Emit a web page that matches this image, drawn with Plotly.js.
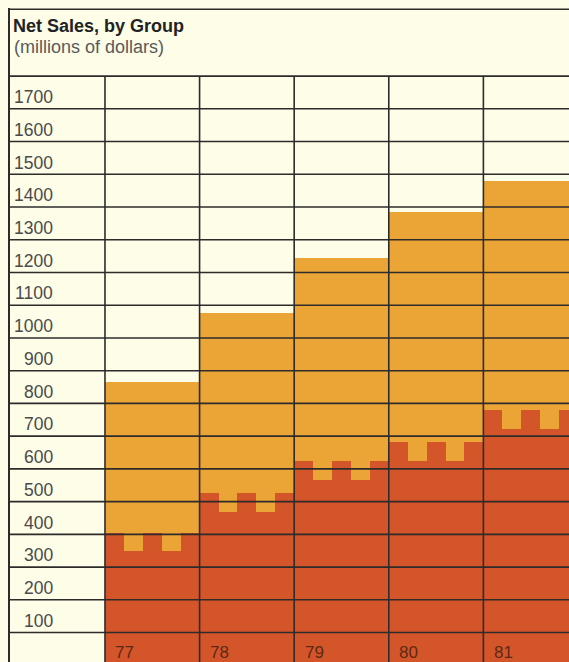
<!DOCTYPE html>
<html>
<head>
<meta charset="utf-8">
<script src="https://cdn.plot.ly/plotly-3.0.1.min.js"></script>
<style>
  html, body { margin: 0; padding: 0; background: #fdfde8; }
  #chart { width: 569px; height: 662px; }
</style>
</head>
<body>
<div id="chart"></div>
<script>
// ---- data ----
var years = ['77', '78', '79', '80', '81'];
var totalSales = [866, 1075, 1245, 1385, 1480];   // top of the whole bar
var redGroup = [405, 525, 623, 682, 780];          // top of the red (lower) group
var yTickValues = [100, 200, 300, 400, 500, 600, 700, 800, 900, 1000, 1100, 1200, 1300, 1400, 1500, 1600, 1700];
var yTickLabels = ['100', '200', '300', '400', '500', '600', '700', '800', '900', '1000', '1100', '1200', '1300', '1400', '1500', '1600', '1700'];
var gridTop = 1800;

// ---- style constants ----
var ORANGE = '#eaa536';
var RED = '#d5552a';
var BG = '#fdfde8';
var LINE = '#2e2b2b';
var notchDepth = 57;
var merlonOffsets = [-0.4, 0, 0.4];
var FONT = 'Liberation Sans, Arial, sans-serif';

var xs = years.map(function (_, i) { return i; });
var notchLevel = redGroup.map(function (v) { return v - notchDepth; });

var mx = [], mbase = [], my = [];
xs.forEach(function (x, i) {
  merlonOffsets.forEach(function (o) {
    mx.push(x + o); mbase.push(notchLevel[i]); my.push(notchDepth);
  });
});

var traces = [
  { type: 'bar', x: xs, y: totalSales, width: 1, marker: { color: ORANGE, line: { width: 0 } }, hoverinfo: 'skip' },
  { type: 'bar', x: xs, y: notchLevel, width: 1, marker: { color: RED, line: { width: 0 } }, hoverinfo: 'skip' },
  { type: 'bar', x: mx, y: my, base: mbase, width: 0.2, marker: { color: RED, line: { width: 0 } }, hoverinfo: 'skip' }
];

var shapes = [];
yTickValues.concat([gridTop]).forEach(function (v) {
  shapes.push({ type: 'line', xref: 'paper', x0: 0, x1: 1, yref: 'y', y0: v, y1: v,
    line: { color: LINE, width: 1.6 }, layer: 'above' });
});
for (var k = 0; k <= years.length; k++) {
  shapes.push({ type: 'line', xref: 'x', x0: k - 0.5, x1: k - 0.5, yref: 'y', y0: 0, y1: gridTop,
    line: { color: LINE, width: 1.6 }, layer: 'above' });
}
// frame top line of the title box
shapes.push({ type: 'line', xref: 'paper', x0: 0, x1: 1, yref: 'paper', y0: 0.998, y1: 0.998,
  line: { color: LINE, width: 1.6 }, layer: 'above' });

var annotations = [];
yTickValues.forEach(function (v, i) {
  annotations.push({ xref: 'x', yref: 'y', x: -1.025, y: v + 36, text: yTickLabels[i],
    showarrow: false, xanchor: 'right', yanchor: 'middle',
    font: { family: FONT, size: 17.5, color: '#4a4a4a' } });
});
years.forEach(function (yr, i) {
  annotations.push({ xref: 'x', yref: 'y', x: i - 0.41, y: 40, text: yr,
    showarrow: false, xanchor: 'left', yanchor: 'middle',
    font: { family: FONT, size: 17, color: '#5a2a14' } });
});
annotations.push({ xref: 'paper', yref: 'paper', x: 0.004, y: 0.941, text: '(millions of dollars)',
  showarrow: false, xanchor: 'left', yanchor: 'middle',
  font: { family: FONT, size: 18, color: '#5a5a5a' } });

var layout = {
  width: 569, height: 662,
  margin: { l: 10, r: 0, t: 8, b: 0, pad: 0 },
  paper_bgcolor: BG, plot_bgcolor: BG,
  showlegend: false,
  barmode: 'overlay',
  bargap: 0,
  hovermode: false,
  title: { text: '<b>Net Sales, by Group</b>', x: 13 / 569, xanchor: 'left', xref: 'container',
    y: 1 - 26 / 662, yanchor: 'middle', yref: 'container',
    font: { family: FONT, size: 18, color: '#222222' } },
  xaxis: { range: [-1.504, 4.405], showgrid: false, zeroline: false, showticklabels: false,
    ticks: '', showline: false, fixedrange: true },
  yaxis: { range: [10, 2008], showgrid: false, zeroline: false, showticklabels: false,
    ticks: '', showline: true, linecolor: LINE, linewidth: 1.6, fixedrange: true },
  shapes: shapes,
  annotations: annotations
};

Plotly.newPlot('chart', traces, layout, { displayModeBar: false, staticPlot: true });
</script>
</body>
</html>
